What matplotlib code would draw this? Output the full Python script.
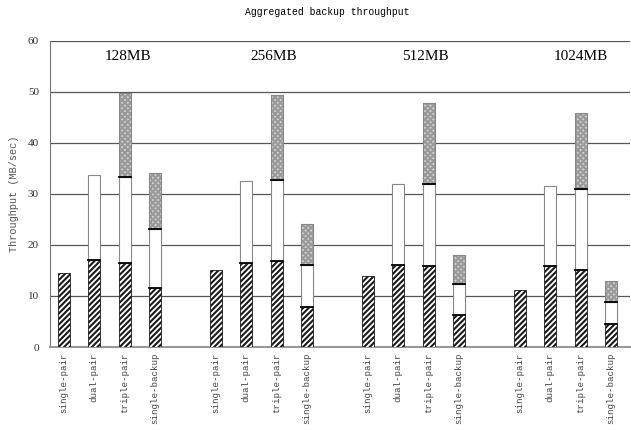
import matplotlib
matplotlib.use("Agg")
import matplotlib.pyplot as plt
import numpy as np

groups = ["128MB", "256MB", "512MB", "1024MB"]
configs = ["single-pair", "dual-pair", "triple-pair", "single-backup"]

# cumulative tops of each stacked segment, per group (rows) and config (cols)
seg1 = [[14.5, 17.1, 16.4, 11.6],
        [15.0, 16.5, 16.8, 7.9],
        [13.9, 16.0, 15.8, 6.2],
        [11.1, 15.9, 15.0, 4.5]]
seg2 = [[0, 33.8, 33.3, 23.2],
        [0, 32.5, 32.8, 16.0],
        [0, 31.9, 32.0, 12.3],
        [0, 31.6, 30.9, 8.8]]
seg3 = [[0, 0, 49.7, 34.1],
        [0, 0, 49.4, 24.2],
        [0, 0, 47.8, 18.1],
        [0, 0, 45.9, 12.9]]

# group label x positions (data coords) as placed in the reference
label_x = [2.1, 6.9, 11.9, 17.0]

mono = ["Liberation Mono", "DejaVu Sans Mono"]

fig = plt.figure(figsize=(6.31, 4.30), dpi=100)
ax = fig.add_axes([0.0792, 0.193, 0.919, 0.712])

plt.rcParams["hatch.linewidth"] = 1.5
w = 0.4
for g in range(len(groups)):
    for i in range(len(configs)):
        x = g * 5 + i
        b1 = seg1[g][i]
        ax.bar(x, b1, w, color="white", edgecolor="#1a1a1a", hatch="//////",
               linewidth=0.6, zorder=3)
        if seg2[g][i] > 0:
            ax.bar(x, seg2[g][i] - b1, w, bottom=b1, color="white",
                   edgecolor="#888888", linewidth=0.8, zorder=3)
            ax.plot([x - w / 2, x + w / 2], [b1, b1], color="black", lw=1.3, zorder=4)
        if seg3[g][i] > 0:
            b2 = seg2[g][i]
            ax.bar(x, seg3[g][i] - b2, w, bottom=b2, color="#d4d4d4",
                   edgecolor="#9a9a9a", hatch="xxxxxx", linewidth=0.6, zorder=3)
            ax.bar(x, seg3[g][i] - b2, w, bottom=b2, color="none",
                   edgecolor="#888888", linewidth=0.8, zorder=3)
            ax.plot([x - w / 2, x + w / 2], [b2, b2], color="black", lw=1.3, zorder=4)

for g in range(len(groups)):
    ax.text(label_x[g], 56.9, groups[g], ha="center", va="center",
            fontsize=11, family=["Liberation Serif", "DejaVu Serif"])

xs = [g * 5 + i for g in range(len(groups)) for i in range(len(configs))]
ax.set_xticks(xs)
ax.set_xticklabels(configs * len(groups), rotation=90, fontsize=6.6,
                   family=mono, color="#444444")
ax.set_xlim(-0.46, 18.62)
ax.set_ylim(0, 60)
ax.set_yticks(np.arange(0, 61, 10))
ax.tick_params(axis="y", length=0, labelsize=8, labelcolor="#333333", pad=8)
ax.tick_params(axis="x", length=0, pad=4)
for lab in ax.get_yticklabels():
    lab.set_family(["Liberation Serif", "DejaVu Serif"])
ax.yaxis.grid(True, color="#555555", lw=0.9, zorder=0)
ax.set_axisbelow(True)
for s in ["top", "right"]:
    ax.spines[s].set_visible(False)
ax.spines["left"].set_color("#777777")
ax.spines["bottom"].set_color("#999999")
ax.spines["bottom"].set_linewidth(1.5)

ax.set_ylabel("Throughput (MB/sec)", fontsize=7.4, family=mono, color="#555555",
              labelpad=6)
fig.text(0.518, 0.972, "Aggregated backup throughput", ha="center", va="center",
         fontsize=7, family=mono)

fig.savefig("out.png", dpi=100)
